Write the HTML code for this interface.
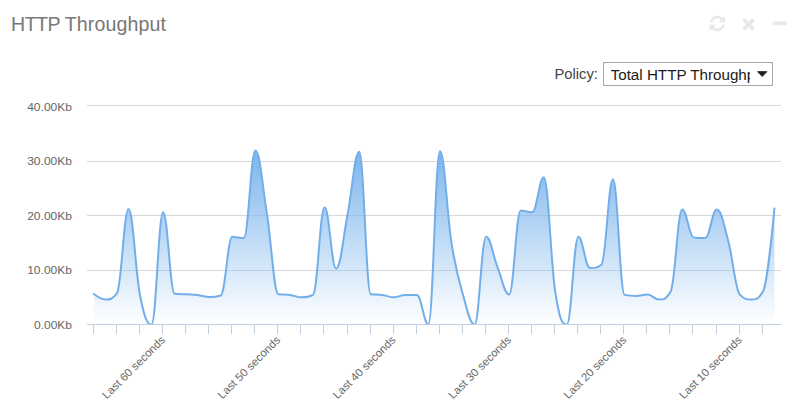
<!DOCTYPE html>
<html><head><meta charset="utf-8"><title>HTTP Throughput</title>
<style>
html,body{margin:0;padding:0;background:#fff;}
body{width:806px;height:415px;position:relative;overflow:hidden;font-family:"Liberation Sans",sans-serif;}
.title{position:absolute;left:11px;top:12.2px;font-size:19.6px;line-height:24px;color:#777;white-space:nowrap;}
.policy{position:absolute;left:554.4px;top:66px;font-size:14.8px;line-height:17px;color:#444;white-space:nowrap;}
.sel{position:absolute;left:603px;top:62px;width:168px;height:21.5px;border:1px solid #a9a9a9;background:#fff;overflow:hidden;}
.sel span{position:absolute;left:6.6px;top:2.7px;width:139.4px;overflow:hidden;white-space:nowrap;font-size:15.2px;line-height:17px;color:#1b1b1b;}
svg{position:absolute;left:0;top:0;}
svg text{font-family:"Liberation Sans",sans-serif;font-size:11.2px;fill:#666;}
</style></head><body>
<div class="title"><span style="letter-spacing:-0.5px">HTTP </span><span style="letter-spacing:0.12px">Throughput</span></div>
<div class="policy">Policy:</div>
<div class="sel"><span>Total HTTP Throughput</span></div>
<svg width="806" height="415" viewBox="0 0 806 415">
<defs><linearGradient id="g" gradientUnits="userSpaceOnUse" x1="0" y1="150.6" x2="0" y2="324.5">
<stop offset="0" stop-color="#7cb5ec"/><stop offset="1" stop-color="#7cb5ec" stop-opacity="0"/></linearGradient>
<clipPath id="cp"><rect x="87" y="100" width="694" height="225"/></clipPath></defs>
<g fill="#e8e8e8">
<path transform="translate(709.7 29.85) scale(0.010045 -0.010045)" d="M1511 480q0 -5 -1 -7q-64 -268 -268 -434.5t-478 -166.5q-146 0 -282.5 55t-243.5 157l-129 -129q-19 -19 -45 -19t-45 19t-19 45v448q0 26 19 45t45 19h448q26 0 45 -19t19 -45t-19 -45l-137 -137q71 -66 161 -102t187 -36q134 0 250 65t186 179q11 17 53 117q8 23 30 23h192q13 0 22.5 -9.5t9.5 -22.5zM1536 1280v-448q0 -26 -19 -45t-45 -19h-448q-26 0 -45 19t-19 45t19 45l138 138q-148 137 -349 137q-134 0 -250 -65t-186 -179q-11 -17 -53 -117q-8 -23 -30 -23h-199q-13 0 -22.5 9.5t-9.5 22.5v7q65 268 270 434.5t480 166.5q146 0 284 -55.5t245 -156.5l130 129q19 19 45 19t45 -19t19 -45z"/>
<path transform="translate(741.5 30.25) scale(0.010045 -0.010045)" d="M1298 214q0 -40 -28 -68l-136 -136q-28 -28 -68 -28t-68 28l-294 294l-294 -294q-28 -28 -68 -28t-68 28l-136 136q-28 28 -28 68t28 68l294 294l-294 294q-28 28 -28 68t28 68l136 136q28 28 68 28t68 -28l294 -294l294 294q28 28 68 28t68 -28l136 -136q28 -28 28 -68t-28 -68l-294 -294l294 -294q28 -28 28 -68z"/>
<path transform="translate(772.5 29.85) scale(0.010045 -0.010045)" d="M1408 736v-192q0 -40 -28 -68t-68 -28h-1216q-40 0 -68 28t-28 68v192q0 40 28 68t68 28h1216q40 0 68 -28t28 -68z"/>
</g>
<!-- select arrow -->
<path d="M757.6 71.7h9.2l-4.6 4.7z" fill="#222" stroke="#222" stroke-width="1" stroke-linejoin="round"/>
<path d="M87 270.5 H781" stroke="#d8d8d8" stroke-width="1" fill="none"/>
<path d="M87 215.5 H781" stroke="#d8d8d8" stroke-width="1" fill="none"/>
<path d="M87 161.5 H781" stroke="#d8d8d8" stroke-width="1" fill="none"/>
<path d="M87 105.5 H781" stroke="#d8d8d8" stroke-width="1" fill="none"/>

<g clip-path="url(#cp)">
<path d="M93.90 294.07 C93.90 294.07 100.82 299.54 105.43 299.54 C110.05 299.54 112.35 299.54 116.97 293.25 C121.58 286.95 123.89 208.93 128.50 208.93 C133.12 208.93 135.42 272.31 140.04 295.44 C144.65 318.56 146.96 324.56 151.57 324.56 C156.19 324.56 158.49 212.22 163.11 212.22 C167.72 212.22 170.03 293.25 174.64 293.79 C179.26 294.34 181.56 294.12 186.18 294.34 C190.79 294.56 193.10 294.34 197.71 294.89 C202.33 295.44 204.63 297.08 209.25 297.08 C213.86 297.08 216.17 297.08 220.78 295.44 C225.40 293.79 227.70 236.85 232.32 236.85 C236.93 236.85 239.24 237.95 243.85 237.95 C248.47 237.95 250.77 150.62 255.39 150.62 C260.00 150.62 262.31 185.11 266.92 213.86 C271.54 242.60 273.84 293.79 278.46 294.34 C283.07 294.89 285.38 294.34 289.99 294.89 C294.61 295.43 296.91 297.35 301.53 297.35 C306.14 297.35 308.45 297.35 313.06 294.89 C317.68 292.42 319.98 207.29 324.60 207.29 C329.21 207.29 331.52 268.61 336.13 268.61 C340.75 268.61 343.05 237.24 347.67 213.86 C352.28 190.48 354.59 151.72 359.20 151.72 C363.82 151.72 366.12 293.79 370.74 294.34 C375.35 294.89 377.66 294.34 382.27 294.89 C386.89 295.43 389.19 297.35 393.81 297.35 C398.42 297.35 400.73 294.89 405.34 294.89 C409.96 294.89 412.26 294.89 416.88 294.89 C421.49 294.89 423.80 324.56 428.41 324.56 C433.03 324.56 435.33 150.90 439.95 150.90 C444.56 150.90 446.87 214.08 451.48 242.88 C456.10 271.67 458.40 278.55 463.02 294.89 C467.63 311.22 469.94 324.56 474.55 324.56 C479.17 324.56 481.47 236.85 486.09 236.85 C490.70 236.85 493.01 255.97 497.62 267.51 C502.24 279.05 504.54 294.56 509.16 294.56 C513.77 294.56 516.08 210.57 520.69 210.57 C525.31 210.57 527.61 212.22 532.23 212.22 C536.84 212.22 539.15 177.18 543.76 177.18 C548.38 177.18 550.68 262.67 555.30 292.15 C559.91 321.63 562.22 324.56 566.83 324.56 C571.45 324.56 573.75 236.85 578.37 236.85 C582.98 236.85 585.29 268.06 589.90 268.06 C594.52 268.06 596.82 268.06 601.44 264.77 C606.05 261.49 608.36 179.37 612.97 179.37 C617.59 179.37 619.89 293.79 624.51 294.89 C629.12 295.98 631.43 295.98 636.04 295.98 C640.66 295.98 642.96 294.61 647.58 294.61 C652.19 294.61 654.50 299.54 659.11 299.54 C663.73 299.54 666.03 299.54 670.65 291.60 C675.26 283.66 677.57 209.48 682.18 209.48 C686.80 209.48 689.10 236.85 693.72 237.40 C698.33 237.95 700.64 237.95 705.25 237.95 C709.87 237.95 712.17 209.48 716.79 209.48 C721.40 209.48 723.71 224.21 728.32 241.23 C732.94 258.26 735.24 289.69 739.86 294.61 C744.47 299.54 746.78 299.54 751.39 299.54 C756.01 299.54 758.31 299.54 762.93 291.60 C767.54 283.66 774.46 208.38 774.46 208.38 L774.46 325.00 L93.90 325.00 Z" fill="url(#g)" stroke="none"/>
<path d="M93.90 294.07 C93.90 294.07 100.82 299.54 105.43 299.54 C110.05 299.54 112.35 299.54 116.97 293.25 C121.58 286.95 123.89 208.93 128.50 208.93 C133.12 208.93 135.42 272.31 140.04 295.44 C144.65 318.56 146.96 324.56 151.57 324.56 C156.19 324.56 158.49 212.22 163.11 212.22 C167.72 212.22 170.03 293.25 174.64 293.79 C179.26 294.34 181.56 294.12 186.18 294.34 C190.79 294.56 193.10 294.34 197.71 294.89 C202.33 295.44 204.63 297.08 209.25 297.08 C213.86 297.08 216.17 297.08 220.78 295.44 C225.40 293.79 227.70 236.85 232.32 236.85 C236.93 236.85 239.24 237.95 243.85 237.95 C248.47 237.95 250.77 150.62 255.39 150.62 C260.00 150.62 262.31 185.11 266.92 213.86 C271.54 242.60 273.84 293.79 278.46 294.34 C283.07 294.89 285.38 294.34 289.99 294.89 C294.61 295.43 296.91 297.35 301.53 297.35 C306.14 297.35 308.45 297.35 313.06 294.89 C317.68 292.42 319.98 207.29 324.60 207.29 C329.21 207.29 331.52 268.61 336.13 268.61 C340.75 268.61 343.05 237.24 347.67 213.86 C352.28 190.48 354.59 151.72 359.20 151.72 C363.82 151.72 366.12 293.79 370.74 294.34 C375.35 294.89 377.66 294.34 382.27 294.89 C386.89 295.43 389.19 297.35 393.81 297.35 C398.42 297.35 400.73 294.89 405.34 294.89 C409.96 294.89 412.26 294.89 416.88 294.89 C421.49 294.89 423.80 324.56 428.41 324.56 C433.03 324.56 435.33 150.90 439.95 150.90 C444.56 150.90 446.87 214.08 451.48 242.88 C456.10 271.67 458.40 278.55 463.02 294.89 C467.63 311.22 469.94 324.56 474.55 324.56 C479.17 324.56 481.47 236.85 486.09 236.85 C490.70 236.85 493.01 255.97 497.62 267.51 C502.24 279.05 504.54 294.56 509.16 294.56 C513.77 294.56 516.08 210.57 520.69 210.57 C525.31 210.57 527.61 212.22 532.23 212.22 C536.84 212.22 539.15 177.18 543.76 177.18 C548.38 177.18 550.68 262.67 555.30 292.15 C559.91 321.63 562.22 324.56 566.83 324.56 C571.45 324.56 573.75 236.85 578.37 236.85 C582.98 236.85 585.29 268.06 589.90 268.06 C594.52 268.06 596.82 268.06 601.44 264.77 C606.05 261.49 608.36 179.37 612.97 179.37 C617.59 179.37 619.89 293.79 624.51 294.89 C629.12 295.98 631.43 295.98 636.04 295.98 C640.66 295.98 642.96 294.61 647.58 294.61 C652.19 294.61 654.50 299.54 659.11 299.54 C663.73 299.54 666.03 299.54 670.65 291.60 C675.26 283.66 677.57 209.48 682.18 209.48 C686.80 209.48 689.10 236.85 693.72 237.40 C698.33 237.95 700.64 237.95 705.25 237.95 C709.87 237.95 712.17 209.48 716.79 209.48 C721.40 209.48 723.71 224.21 728.32 241.23 C732.94 258.26 735.24 289.69 739.86 294.61 C744.47 299.54 746.78 299.54 751.39 299.54 C756.01 299.54 758.31 299.54 762.93 291.60 C767.54 283.66 774.46 208.38 774.46 208.38" fill="none" stroke="#74aeea" stroke-width="2" stroke-linejoin="round" stroke-linecap="round"/>
</g>
<path d="M87 324.5 H781" stroke="#c0d0e0" stroke-width="1" fill="none"/>
<path d="M93.5 324.5 V334" stroke="#c0d0e0" stroke-width="1"/>
<path d="M116.5 324.5 V334" stroke="#c0d0e0" stroke-width="1"/>
<path d="M139.5 324.5 V334" stroke="#c0d0e0" stroke-width="1"/>
<path d="M162.5 324.5 V334" stroke="#c0d0e0" stroke-width="1"/>
<path d="M185.5 324.5 V334" stroke="#c0d0e0" stroke-width="1"/>
<path d="M208.5 324.5 V334" stroke="#c0d0e0" stroke-width="1"/>
<path d="M231.5 324.5 V334" stroke="#c0d0e0" stroke-width="1"/>
<path d="M254.5 324.5 V334" stroke="#c0d0e0" stroke-width="1"/>
<path d="M277.5 324.5 V334" stroke="#c0d0e0" stroke-width="1"/>
<path d="M300.5 324.5 V334" stroke="#c0d0e0" stroke-width="1"/>
<path d="M323.5 324.5 V334" stroke="#c0d0e0" stroke-width="1"/>
<path d="M347.5 324.5 V334" stroke="#c0d0e0" stroke-width="1"/>
<path d="M370.5 324.5 V334" stroke="#c0d0e0" stroke-width="1"/>
<path d="M393.5 324.5 V334" stroke="#c0d0e0" stroke-width="1"/>
<path d="M416.5 324.5 V334" stroke="#c0d0e0" stroke-width="1"/>
<path d="M439.5 324.5 V334" stroke="#c0d0e0" stroke-width="1"/>
<path d="M462.5 324.5 V334" stroke="#c0d0e0" stroke-width="1"/>
<path d="M485.5 324.5 V334" stroke="#c0d0e0" stroke-width="1"/>
<path d="M508.5 324.5 V334" stroke="#c0d0e0" stroke-width="1"/>
<path d="M531.5 324.5 V334" stroke="#c0d0e0" stroke-width="1"/>
<path d="M554.5 324.5 V334" stroke="#c0d0e0" stroke-width="1"/>
<path d="M577.5 324.5 V334" stroke="#c0d0e0" stroke-width="1"/>
<path d="M600.5 324.5 V334" stroke="#c0d0e0" stroke-width="1"/>
<path d="M623.5 324.5 V334" stroke="#c0d0e0" stroke-width="1"/>
<path d="M646.5 324.5 V334" stroke="#c0d0e0" stroke-width="1"/>
<path d="M669.5 324.5 V334" stroke="#c0d0e0" stroke-width="1"/>
<path d="M692.5 324.5 V334" stroke="#c0d0e0" stroke-width="1"/>
<path d="M716.5 324.5 V334" stroke="#c0d0e0" stroke-width="1"/>
<path d="M739.5 324.5 V334" stroke="#c0d0e0" stroke-width="1"/>
<path d="M762.5 324.5 V334" stroke="#c0d0e0" stroke-width="1"/>

<text x="72" y="328.6" text-anchor="end" textLength="38.0" lengthAdjust="spacingAndGlyphs">0.00Kb</text>
<text x="72" y="274.2" text-anchor="end" textLength="44.8" lengthAdjust="spacingAndGlyphs">10.00Kb</text>
<text x="72" y="219.7" text-anchor="end" textLength="44.8" lengthAdjust="spacingAndGlyphs">20.00Kb</text>
<text x="72" y="165.3" text-anchor="end" textLength="44.8" lengthAdjust="spacingAndGlyphs">30.00Kb</text>
<text x="72" y="110.8" text-anchor="end" textLength="44.8" lengthAdjust="spacingAndGlyphs">40.00Kb</text>

<text x="165.7" y="340.6" text-anchor="end" textLength="83.2" lengthAdjust="spacingAndGlyphs" transform="rotate(-45 165.7 340.6)">Last 60 seconds</text>
<text x="281.1" y="340.6" text-anchor="end" textLength="83.2" lengthAdjust="spacingAndGlyphs" transform="rotate(-45 281.1 340.6)">Last 50 seconds</text>
<text x="396.4" y="340.6" text-anchor="end" textLength="83.2" lengthAdjust="spacingAndGlyphs" transform="rotate(-45 396.4 340.6)">Last 40 seconds</text>
<text x="511.8" y="340.6" text-anchor="end" textLength="83.2" lengthAdjust="spacingAndGlyphs" transform="rotate(-45 511.8 340.6)">Last 30 seconds</text>
<text x="627.1" y="340.6" text-anchor="end" textLength="83.2" lengthAdjust="spacingAndGlyphs" transform="rotate(-45 627.1 340.6)">Last 20 seconds</text>
<text x="742.5" y="340.6" text-anchor="end" textLength="83.2" lengthAdjust="spacingAndGlyphs" transform="rotate(-45 742.5 340.6)">Last 10 seconds</text>

</svg>
</body></html>
